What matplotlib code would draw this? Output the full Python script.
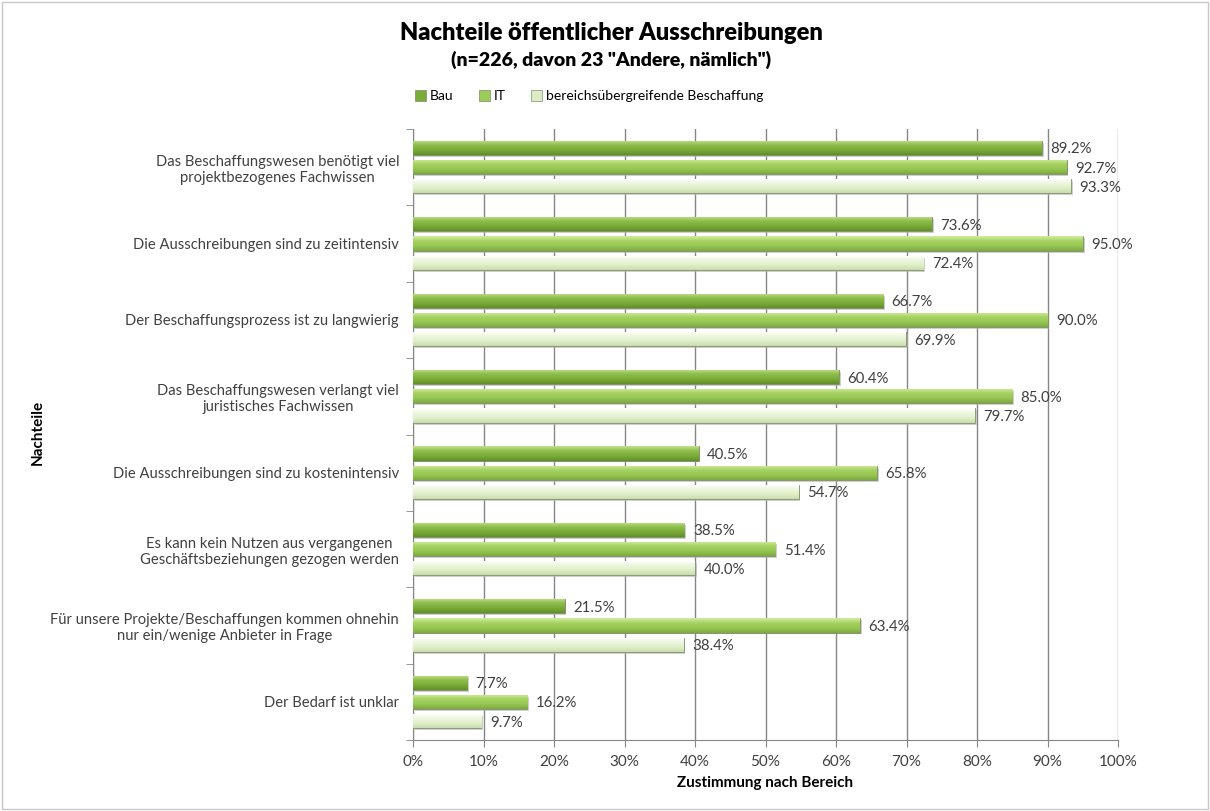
import numpy as np
import matplotlib
matplotlib.use("Agg")
import matplotlib.pyplot as plt
from matplotlib.colors import LinearSegmentedColormap

plt.rcParams['font.family'] = ['Lato', 'DejaVu Sans']

# Daten
kategorien = [
    "Das Beschaffungswesen benötigt viel\nprojektbezogenes Fachwissen",
    "Die Ausschreibungen sind zu zeitintensiv",
    "Der Beschaffungsprozess ist zu langwierig",
    "Das Beschaffungswesen verlangt viel\njuristisches Fachwissen",
    "Die Ausschreibungen sind zu kostenintensiv",
    "Es kann kein Nutzen aus vergangenen\nGeschäftsbeziehungen gezogen werden",
    "Für unsere Projekte/Beschaffungen kommen ohnehin\nnur ein/wenige Anbieter in Frage",
    "Der Bedarf ist unklar",
]
bau = [89.2, 73.6, 66.7, 60.4, 40.5, 38.5, 21.5, 7.7]
it = [92.7, 95.0, 90.0, 85.0, 65.8, 51.4, 63.4, 16.2]
uebergreifend = [93.3, 72.4, 69.9, 79.7, 54.7, 40.0, 38.4, 9.7]
serien = ["Bau", "IT", "bereichsübergreifende Beschaffung"]
x_ticks = [0, 10, 20, 30, 40, 50, 60, 70, 80, 90, 100]

# Farbverlaeufe (oben hell, unten dunkel)
verlaeufe = [
    ["#c2e08c", "#8dbd4a", "#7aab38", "#628f28"],
    ["#d2eca0", "#a6d262", "#96c653", "#7eaa40"],
    ["#ffffff", "#eef7df", "#e0efc8", "#c9dcae"],
]
legendfarben = ["#7aab38", "#9bcb58", "#dcebc5"]

fig = plt.figure(figsize=(12.1, 8.11), dpi=100)
ax = fig.add_axes([413 / 1210, 1 - 740 / 811, 705 / 1210, 611 / 811])

n = len(kategorien)
y = np.arange(n)
hoehe = 0.185
abstand = 0.252

for s, werte in enumerate([bau, it, uebergreifend]):
    cmap = LinearSegmentedColormap.from_list("v%d" % s, verlaeufe[s])
    grad = np.linspace(0, 1, 64).reshape(-1, 1)
    pos = y + (s - 1) * abstand
    bars = ax.barh(pos, werte, height=hoehe, color=legendfarben[s],
                   edgecolor="#7f8f6a", linewidth=0.6, zorder=3, label=serien[s])
    for b, w in zip(bars, werte):
        bx, by = b.get_x(), b.get_y()
        bw, bh = b.get_width(), b.get_height()
        # Schatten
        ax.add_patch(plt.Rectangle((bx + 0.25, by + 0.025), bw, bh,
                                   color="#b0b0b0", alpha=0.6, zorder=2, lw=0))
        im = ax.imshow(grad, cmap=cmap, aspect="auto", zorder=4,
                       extent=(bx, bx + bw, by + bh, by), origin="upper")
        im.set_clip_path(b)
        ax.text(w + 1.2, by + bh / 2 + 0.02, "%.1f%%" % w, va="center", ha="left",
                fontsize=10.8, color="#404040", zorder=5)

ax.set_xlim(0, 100)
ax.set_ylim(n - 0.5, -0.5)
ax.set_xticks(x_ticks)
ax.set_xticklabels(["%d%%" % t for t in x_ticks], fontsize=11, color="#404040")
ax.set_yticks(y)
ax.set_yticklabels(kategorien, fontsize=10.6, color="#404040", multialignment="center")
ax.set_yticks(np.arange(n + 1) - 0.5, minor=True)
ax.tick_params(axis="y", which="major", length=0, pad=10)
ax.tick_params(axis="y", which="minor", length=5, color="#868686", left=True)
ax.tick_params(axis="x", length=5, color="#868686", pad=6)
ax.grid(axis="x", color="#868686", linewidth=1, zorder=0)
ax.set_axisbelow(True)
for sp in ["top", "right"]:
    ax.spines[sp].set_visible(False)
for sp in ["left", "bottom"]:
    ax.spines[sp].set_color("#868686")

ax.set_xlabel("Zustimmung nach Bereich", fontsize=11, fontweight="bold", labelpad=5)
fig.text(38 / 1210, 1 - 432 / 811, "Nachteile", rotation=90, fontsize=11,
         fontweight="bold", va="center", ha="center")

fig.text(0.505, 1 - 33 / 811, "Nachteile öffentlicher Ausschreibungen",
         ha="center", va="center", fontsize=17, fontweight="heavy")
fig.text(0.505, 1 - 60 / 811, '(n=226, davon 23 "Andere, nämlich")',
         ha="center", va="center", fontsize=14, fontweight="heavy")

handles = [plt.Rectangle((0, 0), 1, 1, fc=c, ec="#7f8f6a", lw=0.5) for c in legendfarben]
fig.legend(handles, serien, loc="center", bbox_to_anchor=(0.487, 1 - 96 / 811),
           ncol=3, frameon=False, fontsize=10, handlelength=0.8, handleheight=0.8,
           handletextpad=0.3, columnspacing=1.8)

# Rahmen
fig.add_artist(plt.Rectangle((0.002, 0.002), 0.996, 0.996, transform=fig.transFigure,
                             fill=False, edgecolor="#c8c8c8", lw=1))

fig.savefig("out.png", dpi=100)
